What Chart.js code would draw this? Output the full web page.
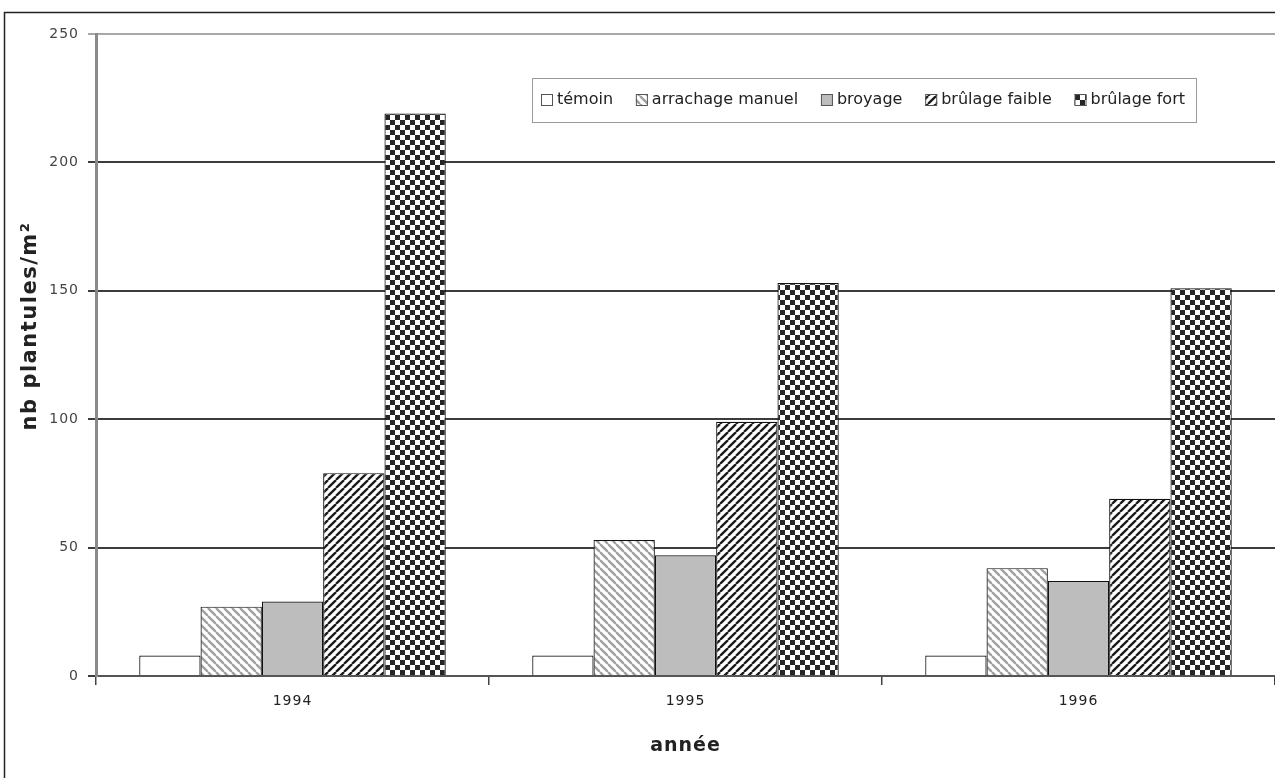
<!DOCTYPE html>
<html lang="fr">
<head>
<meta charset="utf-8">
<title>Plantules par traitement</title>
<script src="https://cdn.jsdelivr.net/npm/chart.js@4.4.1/dist/chart.umd.min.js"></script>
<style>
  html, body { margin: 0; padding: 0; background: #fff; }
  canvas { display: block; }
</style>
</head>
<body>
<canvas id="c" width="1275" height="778"></canvas>
<script>
// Years on the x axis
const years = ['1994', '1995', '1996'];

// Seedlings per m² for each treatment
const temoin = [8, 8, 8];
const arrachageManuel = [27, 53, 42];
const broyage = [29, 47, 37];
const brulageFaible = [79, 99, 69];
const brulageFort = [219, 153, 151];

// Y axis tick values
const yTicks = [0, 50, 100, 150, 200, 250];

const FONT = '"DejaVu Sans", Verdana, sans-serif';

// Hatch / checker fills
function makePattern(draw, w, h) {
  const cv = document.createElement('canvas');
  cv.width = w; cv.height = h;
  const g = cv.getContext('2d');
  g.fillStyle = '#fff';
  g.fillRect(0, 0, w, h);
  draw(g, w, h);
  return g.createPattern(cv, 'repeat');
}
const ctxMain = document.getElementById('c').getContext('2d');

// light "\" hatch
const hatchLight = makePattern((g, w, h) => {
  g.strokeStyle = '#a0a0a0';
  g.lineWidth = 2.4;
  for (let k = -1; k <= 1; k++) {
    g.beginPath();
    g.moveTo(k * w, 0);
    g.lineTo(k * w + w, h);
    g.stroke();
  }
}, 8, 8);

// dark "/" hatch
const hatchDark = makePattern((g, w, h) => {
  g.strokeStyle = '#1a1a1a';
  g.lineWidth = 2.3;
  for (let k = -1; k <= 1; k++) {
    g.beginPath();
    g.moveTo(k * w, h);
    g.lineTo(k * w + w, 0);
    g.stroke();
  }
}, 8, 8);

// checkerboard
const checker = makePattern((g, w, h) => {
  g.fillStyle = '#262626';
  g.fillRect(0, 0, w / 2, h / 2);
  g.fillRect(w / 2, h / 2, w / 2, h / 2);
}, 10, 10);

const seriesStyle = [
  { label: 'témoin', data: temoin, fill: '#ffffff' },
  { label: 'arrachage manuel', data: arrachageManuel, fill: hatchLight },
  { label: 'broyage', data: broyage, fill: '#bdbdbd' },
  { label: 'brûlage faible', data: brulageFaible, fill: hatchDark },
  { label: 'brûlage fort', data: brulageFort, fill: checker }
];

// Frame, rotated y title and in-plot legend
const decorations = {
  id: 'decorations',
  beforeDraw(chart) {
    const c = chart.ctx;
    c.save();
    c.fillStyle = '#fff';
    c.fillRect(0, 0, chart.width, chart.height);
    c.strokeStyle = '#222';
    c.lineWidth = 1.5;
    c.beginPath();
    c.moveTo(4.5, chart.height);
    c.lineTo(4.5, 12.5);
    c.lineTo(chart.width, 12.5);
    c.stroke();
    c.restore();
    // slightly open letter spacing for the axis labels
    c.letterSpacing = '1px';
  },
  afterDraw(chart) {
    const c = chart.ctx;
    c.save();
    // y axis title
    c.letterSpacing = '1.5px';
    c.translate(31, 326);
    c.rotate(-Math.PI / 2);
    c.fillStyle = '#222';
    c.font = 'bold 21px ' + FONT;
    c.textAlign = 'center';
    c.textBaseline = 'middle';
    c.fillText('nb plantules/m²', 0, 0);
    c.restore();

    // legend box
    c.save();
    c.letterSpacing = '0px';
    const bx = 532, by = 78, bw = 664, bh = 44;
    c.fillStyle = '#fff';
    c.fillRect(bx, by, bw, bh);
    c.strokeStyle = '#9a9a9a';
    c.lineWidth = 1;
    c.strokeRect(bx + 0.5, by + 0.5, bw, bh);
    c.font = '16px ' + FONT;
    c.textBaseline = 'middle';
    const sw = 12, tGap = 4;
    const startX = bx + 9, endX = bx + bw - 11;
    const dsList = chart.data.datasets;
    const widths = dsList.map(ds => c.measureText(ds.label).width);
    const used = widths.reduce((a, b) => a + b, 0) + dsList.length * (sw + tGap);
    const gap = (endX - startX - used) / (dsList.length - 1);
    let x = startX;
    const cy = by + bh / 2;
    dsList.forEach((ds, i) => {
      c.fillStyle = ds.backgroundColor;
      c.fillRect(x, cy - 6, sw, sw);
      c.strokeStyle = '#555';
      c.lineWidth = 1;
      c.strokeRect(x + 0.5, cy - 5.5, sw - 1, sw - 1);
      c.fillStyle = '#222';
      c.fillText(ds.label, x + sw + tGap, cy);
      x += sw + tGap + widths[i] + gap;
    });
    c.restore();
  }
};

new Chart(ctxMain, {
  type: 'bar',
  data: {
    labels: years,
    datasets: seriesStyle.map(s => ({
      label: s.label,
      data: s.data,
      backgroundColor: s.fill,
      borderColor: '#111',
      borderWidth: 1.2,
      borderSkipped: 'bottom',
      categoryPercentage: 0.78,
      barPercentage: 1.0
    }))
  },
  options: {
    responsive: false,
    animation: false,
    devicePixelRatio: 1,
    layout: { padding: { top: 34, right: 0, left: 0, bottom: 0 } },
    plugins: {
      legend: { display: false },
      tooltip: { enabled: false }
    },
    scales: {
      x: {
        offset: true,
        afterFit(scale) { scale.height = 102; },
        grid: {
          offset: true,
          drawOnChartArea: false,
          drawTicks: true,
          tickLength: 9,
          color: '#444',
          lineWidth: 1.5
        },
        border: { display: true, color: '#555', width: 2 },
        ticks: {
          color: '#222',
          font: { family: FONT, size: 14 },
          padding: 8
        },
        title: {
          display: true,
          text: 'année',
          color: '#222',
          font: { family: FONT, size: 19, weight: 'bold' },
          padding: { top: 0, bottom: 21 }
        }
      },
      y: {
        min: 0,
        max: 250,
        afterFit(scale) { scale.width = 96; },
        afterBuildTicks(scale) { scale.ticks = yTicks.map(v => ({ value: v })); },
        grid: {
          color: ctx => (ctx.tick && ctx.tick.value === 250 ? '#a8a8a8' : '#3c3c3c'),
          lineWidth: 2,
          tickLength: 8,
          drawTicks: true
        },
        border: { display: true, color: '#8a8a8a', width: 3 },
        ticks: {
          color: '#444',
          font: { family: FONT, size: 14 },
          padding: 9
        }
      }
    }
  },
  plugins: [decorations]
});
</script>
</body>
</html>
